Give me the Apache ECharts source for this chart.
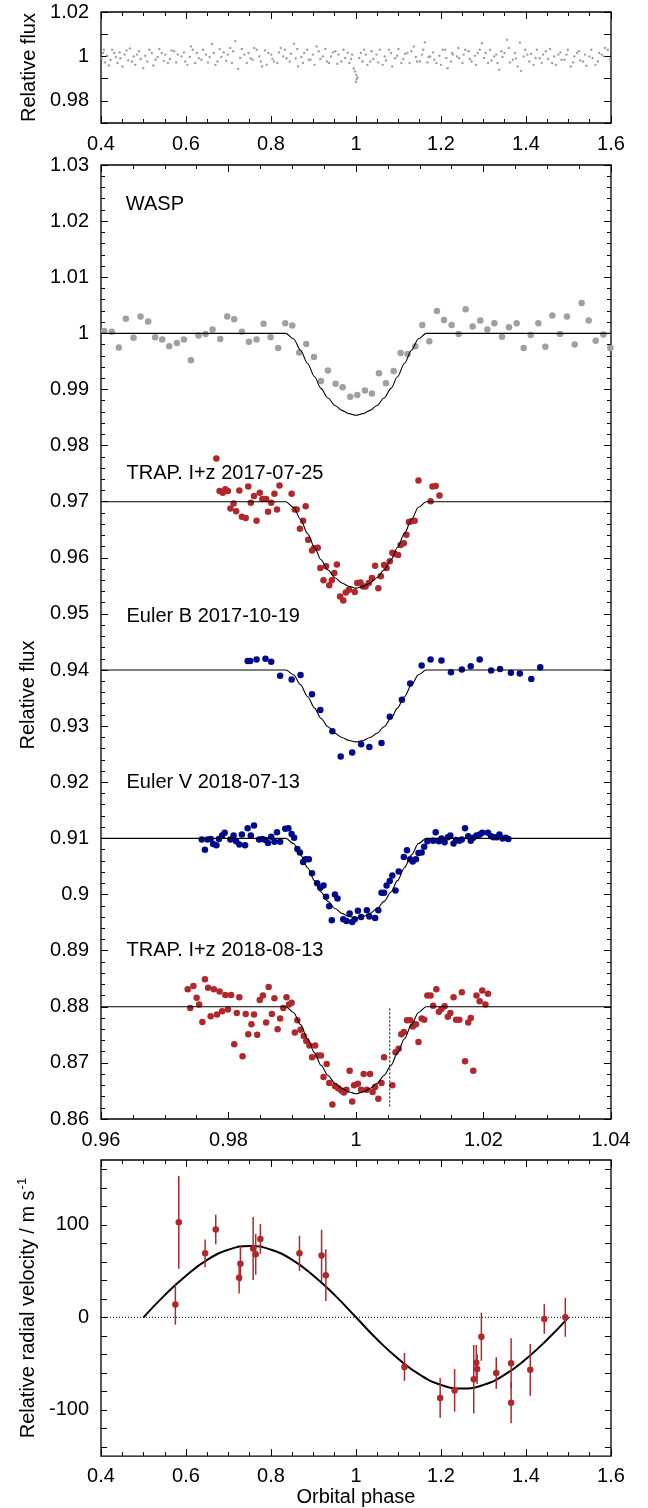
<!DOCTYPE html>
<html>
<head>
<meta charset="utf-8">
<title>Transit light curves and radial velocities</title>
<script src="https://cdn.jsdelivr.net/npm/echarts@6/dist/echarts.min.js"></script>
<style>
  html, body { margin: 0; padding: 0; background: #fff; }
  #chart { width: 648px; height: 1508px; }
</style>
</head>
<body>
<div id="chart"></div>
<script>
// ---- full-orbit WASP photometry (phase, relative flux) ----
const waspFull = [
  [0.4019,0.9993],[0.4049,1.0015],[0.4068,1.0030],[0.4097,0.9973],[0.4146,1.0003],[0.4185,0.9959],[0.4224,0.9985],[0.4262,1.0030],
  [0.4311,1.0015],[0.4350,0.9997],[0.4389,0.9970],[0.4437,1.0018],[0.4457,0.9992],[0.4505,0.9955],[0.4554,1.0008],[0.4603,1.0027],
  [0.4642,0.9982],[0.4680,1.0036],[0.4729,0.9977],[0.4768,1.0000],[0.4807,0.9962],[0.4846,1.0008],[0.4894,1.0023],[0.4933,0.9988],
  [0.4991,0.9947],[0.5040,1.0003],[0.5089,0.9977],[0.5137,1.0030],[0.5196,1.0015],[0.5234,0.9959],[0.5283,0.9985],[0.5332,0.9997],
  [0.5371,1.0033],[0.5429,1.0015],[0.5477,0.9980],[0.5516,1.0008],[0.5575,0.9970],[0.5623,0.9988],[0.5662,1.0027],[0.5720,1.0023],
  [0.5769,0.9973],[0.5808,1.0008],[0.5895,1.0000],[0.5954,1.0018],[0.5983,0.9977],[0.6031,0.9962],[0.6090,0.9997],[0.6119,1.0045],
  [0.6158,1.0030],[0.6216,0.9970],[0.6255,1.0015],[0.6304,0.9992],[0.6362,0.9985],[0.6401,1.0030],[0.6469,1.0008],[0.6517,0.9973],
  [0.6556,0.9997],[0.6615,1.0056],[0.6654,1.0015],[0.6692,0.9962],[0.6741,0.9977],[0.6790,1.0033],[0.6829,0.9997],[0.6887,1.0018],
  [0.6945,0.9980],[0.6984,1.0008],[0.7042,1.0038],[0.7081,0.9970],[0.7110,1.0023],[0.7159,1.0069],[0.7227,0.9944],[0.7276,0.9993],
  [0.7315,1.0033],[0.7373,1.0008],[0.7431,0.9970],[0.7470,1.0015],[0.7519,0.9992],[0.7567,0.9985],[0.7606,1.0038],[0.7664,1.0030],
  [0.7723,1.0000],[0.7762,0.9977],[0.7791,0.9955],[0.7859,1.0027],[0.7898,0.9962],[0.7937,1.0015],[0.8005,1.0008],[0.8034,0.9988],
  [0.8073,0.9977],[0.8150,0.9970],[0.8189,1.0018],[0.8228,1.0038],[0.8287,1.0000],[0.8326,1.0030],[0.8364,0.9992],[0.8442,0.9977],
  [0.8471,1.0012],[0.8539,1.0057],[0.8578,0.9991],[0.8617,1.0033],[0.8636,0.9955],[0.8714,0.9997],[0.8753,0.9970],[0.8782,1.0015],
  [0.8850,1.0030],[0.8889,0.9985],[0.8928,0.9985],[0.8986,1.0008],[0.9025,0.9962],[0.9074,1.0045],[0.9122,1.0023],[0.9161,0.9988],
  [0.9220,1.0000],[0.9278,1.0033],[0.9317,0.9977],[0.9365,0.9970],[0.9414,1.0000],[0.9453,1.0018],[0.9511,1.0023],[0.9560,0.9967],
  [0.9589,1.0008],[0.9657,0.9977],[0.9706,1.0030],[0.9745,0.9993],[0.9803,1.0015],[0.9842,0.9970],[0.9881,0.9988],[0.9910,1.0008],
  [0.9949,0.9946],[0.9978,0.9932],[0.9997,0.9885],[1.0007,0.9917],[1.0017,0.9897],[1.0036,0.9906],[1.0075,0.9993],[1.0114,1.0015],
  [1.0153,0.9977],[1.0192,1.0030],[1.0231,1.0008],[1.0269,0.9962],[1.0337,0.9977],[1.0367,1.0023],[1.0405,0.9988],[1.0483,1.0008],
  [1.0522,0.9973],[1.0561,1.0030],[1.0629,0.9962],[1.0678,1.0000],[1.0707,0.9982],[1.0775,1.0030],[1.0823,1.0015],[1.0853,0.9955],
  [1.0921,0.9992],[1.0969,1.0003],[1.0998,1.0033],[1.1066,0.9970],[1.1115,0.9988],[1.1154,1.0012],[1.1212,1.0015],[1.1261,0.9970],
  [1.1300,1.0023],[1.1358,1.0045],[1.1407,0.9997],[1.1436,0.9977],[1.1504,0.9977],[1.1552,1.0008],[1.1582,1.0030],[1.1620,1.0063],
  [1.1679,0.9973],[1.1708,0.9997],[1.1747,1.0000],[1.1815,1.0018],[1.1844,0.9985],[1.1893,0.9970],[1.1961,1.0003],[1.2000,0.9962],
  [1.2038,1.0030],[1.2097,1.0030],[1.2126,0.9993],[1.2155,0.9947],[1.2233,0.9977],[1.2262,1.0015],[1.2281,1.0008],[1.2379,1.0000],
  [1.2408,1.0038],[1.2427,0.9992],[1.2505,0.9970],[1.2534,1.0008],[1.2573,1.0030],[1.2651,1.0023],[1.2680,0.9988],[1.2719,0.9977],
  [1.2797,1.0003],[1.2826,0.9962],[1.2865,1.0015],[1.2913,1.0030],[1.2962,1.0059],[1.3010,0.9993],[1.3049,1.0015],[1.3108,0.9970],
  [1.3156,1.0030],[1.3185,0.9982],[1.3253,1.0000],[1.3302,1.0008],[1.3331,0.9970],[1.3370,0.9940],[1.3419,1.0023],[1.3448,0.9997],
  [1.3496,1.0015],[1.3555,1.0075],[1.3594,1.0038],[1.3623,0.9973],[1.3691,0.9985],[1.3739,1.0015],[1.3768,0.9991],[1.3807,0.9955],
  [1.3856,1.0062],[1.3885,0.9935],[1.3944,1.0000],[1.3982,1.0030],[1.4031,1.0008],[1.4080,0.9977],[1.4119,1.0012],[1.4177,0.9962],
  [1.4225,0.9993],[1.4255,1.0030],[1.4323,0.9992],[1.4371,0.9970],[1.4400,1.0008],[1.4468,1.0023],[1.4517,0.9988],[1.4566,1.0033],
  [1.4614,0.9970],[1.4663,1.0000],[1.4702,0.9962],[1.4760,1.0008],[1.4809,1.0018],[1.4838,0.9985],[1.4906,0.9985],[1.4954,1.0008],
  [1.4984,1.0030],[1.5052,0.9955],[1.5110,0.9973],[1.5139,1.0000],[1.5197,1.0015],[1.5246,1.0023],[1.5275,0.9982],[1.5343,0.9977],
  [1.5392,1.0008],[1.5421,0.9958],[1.5489,1.0000],[1.5538,1.0030],[1.5567,0.9993],[1.5635,0.9962],[1.5693,0.9977],[1.5722,1.0015],
  [1.5781,1.0008],[1.5829,1.0000],[1.5858,1.0038],[1.5926,1.0030],[1.5975,0.9985]
];

// ---- transit close-ups (phase, relative flux incl. offsets) ----
const waspBinned = [
  [0.9605,1.0004],[0.9617,1.0003],[0.9628,0.9975],[0.9639,1.0026],[0.9651,0.9992],[0.9662,1.0030],[0.9674,1.0021],[0.9685,0.9993],
  [0.9696,0.9989],[0.9707,0.9977],[0.9719,0.9983],[0.9730,0.9989],[0.9741,0.9952],[0.9753,0.9996],[0.9764,0.9999],[0.9775,1.0007],
  [0.9787,0.9990],[0.9798,1.0030],[0.9809,1.0025],[0.9821,1.0003],[0.9832,0.9985],[0.9844,0.9989],[0.9855,1.0017],[0.9866,0.9993],
  [0.9878,0.9974],[0.9889,1.0018],[0.9900,1.0014],[0.9911,0.9966],[0.9922,0.9981],[0.9934,0.9958],[0.9945,0.9915],[0.9956,0.9934],
  [0.9968,0.9910],[0.9979,0.9904],[0.9991,0.9887],[1.0002,0.9890],[1.0014,0.9898],[1.0025,0.9893],[1.0036,0.9929],[1.0047,0.9911],
  [1.0059,0.9933],[1.0070,0.9965],[1.0081,0.9963],[1.0093,0.9977],[1.0104,1.0015],[1.0115,0.9986],[1.0127,1.0040],[1.0138,1.0024],
  [1.0150,1.0015],[1.0161,0.9999],[1.0172,1.0043],[1.0183,1.0012],[1.0195,1.0023],[1.0206,1.0007],[1.0217,1.0018],[1.0229,0.9994],
  [1.0240,1.0011],[1.0252,1.0018],[1.0263,0.9974],[1.0274,0.9997],[1.0286,1.0018],[1.0297,0.9976],[1.0308,1.0032],[1.0320,0.9999],
  [1.0331,1.0030],[1.0343,0.9980],[1.0354,1.0054],[1.0365,1.0023],[1.0376,0.9987],[1.0388,0.9998],[1.0399,0.9974]
];
const trap2017 = [
  [0.9781,0.9777],[0.9786,0.9719],[0.9791,0.9716],[0.9795,0.9722],[0.9799,0.9719],[0.9803,0.9688],[0.9808,0.9697],[0.9812,0.9683],
  [0.9817,0.9720],[0.9821,0.9673],[0.9827,0.9671],[0.9831,0.9727],[0.9835,0.9698],[0.9840,0.9710],[0.9844,0.9666],[0.9849,0.9716],
  [0.9853,0.9705],[0.9859,0.9705],[0.9862,0.9682],[0.9867,0.9698],[0.9872,0.9714],[0.9876,0.9686],[0.9880,0.9729],[0.9899,0.9714],
  [0.9904,0.9686],[0.9907,0.9686],[0.9912,0.9652],[0.9917,0.9666],[0.9921,0.9692],[0.9925,0.9632],[0.9931,0.9613],[0.9934,0.9617],
  [0.9940,0.9618],[0.9944,0.9582],[0.9949,0.9560],[0.9953,0.9585],[0.9958,0.9551],[0.9962,0.9560],[0.9966,0.9573],[0.9970,0.9588],
  [0.9975,0.9531],[0.9980,0.9524],[0.9984,0.9538],[0.9989,0.9543],[0.9998,0.9539],[1.0002,0.9555],[1.0007,0.9556],[1.0011,0.9549],
  [1.0015,0.9549],[1.0020,0.9555],[1.0025,0.9564],[1.0030,0.9586],[1.0035,0.9546],[1.0039,0.9567],[1.0044,0.9587],[1.0048,0.9582],
  [1.0053,0.9594],[1.0057,0.9609],[1.0061,0.9607],[1.0066,0.9605],[1.0070,0.9623],[1.0075,0.9626],[1.0079,0.9641],[1.0083,0.9664],
  [1.0087,0.9665],[1.0092,0.9666],[1.0098,0.9738],[1.0117,0.9701],[1.0120,0.9727],[1.0125,0.9728],[1.0131,0.9711]
];
const eulerB2017 = [
  [0.9830,0.9416],[0.9834,0.9416],[0.9844,0.9419],[0.9858,0.9420],[0.9867,0.9415],[0.9881,0.9390],[0.9899,0.9383],[0.9913,0.9391],
  [0.9931,0.9357],[0.9944,0.9329],[0.9963,0.9291],[0.9976,0.9246],[0.9994,0.9253],[1.0008,0.9268],[1.0021,0.9263],[1.0040,0.9270],
  [1.0053,0.9317],[1.0072,0.9347],[1.0085,0.9376],[1.0103,0.9408],[1.0117,0.9419],[1.0134,0.9417],[1.0149,0.9396],[1.0166,0.9401],
  [1.0180,0.9407],[1.0194,0.9419],[1.0212,0.9399],[1.0226,0.9402],[1.0243,0.9395],[1.0257,0.9394],[1.0275,0.9384],[1.0289,0.9405]
];
const eulerV2018 = [
  [0.9758,0.9098],[0.9763,0.9080],[0.9767,0.9098],[0.9772,0.9099],[0.9776,0.9090],[0.9781,0.9088],[0.9785,0.9099],[0.9790,0.9105],
  [0.9794,0.9110],[0.9803,0.9098],[0.9808,0.9105],[0.9812,0.9095],[0.9817,0.9089],[0.9821,0.9107],[0.9826,0.9088],[0.9830,0.9118],
  [0.9835,0.9105],[0.9840,0.9123],[0.9848,0.9098],[0.9853,0.9099],[0.9858,0.9097],[0.9862,0.9092],[0.9867,0.9103],[0.9872,0.9094],
  [0.9876,0.9111],[0.9881,0.9094],[0.9889,0.9117],[0.9894,0.9118],[0.9899,0.9108],[0.9903,0.9101],[0.9908,0.9081],[0.9912,0.9075],
  [0.9917,0.9058],[0.9921,0.9063],[0.9926,0.9063],[0.9931,0.9038],[0.9939,0.9020],[0.9944,0.9012],[0.9949,0.9016],[0.9953,0.8996],
  [0.9958,0.8979],[0.9962,0.8954],[0.9967,0.9000],[0.9971,0.8993],[0.9980,0.8956],[0.9985,0.8953],[0.9990,0.8966],[0.9994,0.8951],
  [0.9998,0.8956],[1.0003,0.8971],[1.0008,0.8960],[1.0017,0.8972],[1.0021,0.8961],[1.0030,0.8958],[1.0035,0.8972],[1.0040,0.9003],
  [1.0044,0.9003],[1.0048,0.9016],[1.0053,0.9024],[1.0057,0.9034],[1.0062,0.9007],[1.0067,0.9041],[1.0075,0.9067],[1.0080,0.9079],
  [1.0085,0.9063],[1.0089,0.9059],[1.0094,0.9063],[1.0098,0.9074],[1.0103,0.9075],[1.0107,0.9085],[1.0112,0.9095],[1.0121,0.9096],
  [1.0125,0.9111],[1.0130,0.9095],[1.0134,0.9100],[1.0139,0.9093],[1.0144,0.9102],[1.0148,0.9105],[1.0153,0.9091],[1.0157,0.9097],
  [1.0162,0.9096],[1.0166,0.9098],[1.0171,0.9118],[1.0176,0.9104],[1.0180,0.9096],[1.0184,0.9101],[1.0189,0.9105],[1.0194,0.9107],
  [1.0198,0.9110],[1.0207,0.9110],[1.0212,0.9104],[1.0216,0.9102],[1.0221,0.9102],[1.0225,0.9107],[1.0230,0.9100],[1.0235,0.9101],
  [1.0239,0.9099]
];
const trap2018 = [
  [0.9736,0.8831],[0.9740,0.8798],[0.9745,0.8837],[0.9750,0.8816],[0.9754,0.8804],[0.9759,0.8773],[0.9763,0.8849],[0.9768,0.8834],
  [0.9772,0.8783],[0.9777,0.8831],[0.9782,0.8786],[0.9786,0.8827],[0.9790,0.8792],[0.9795,0.8821],[0.9799,0.8795],[0.9804,0.8821],
  [0.9809,0.8733],[0.9813,0.8789],[0.9817,0.8817],[0.9822,0.8712],[0.9827,0.8787],[0.9831,0.8751],[0.9836,0.8769],[0.9840,0.8786],
  [0.9845,0.8750],[0.9849,0.8812],[0.9854,0.8820],[0.9859,0.8772],[0.9863,0.8835],[0.9868,0.8787],[0.9872,0.8815],[0.9877,0.8760],
  [0.9881,0.8779],[0.9886,0.8798],[0.9891,0.8817],[0.9895,0.8804],[0.9899,0.8807],[0.9904,0.8754],[0.9908,0.8776],[0.9913,0.8759],
  [0.9918,0.8748],[0.9922,0.8739],[0.9927,0.8731],[0.9931,0.8710],[0.9936,0.8731],[0.9940,0.8713],[0.9945,0.8713],[0.9949,0.8675],
  [0.9954,0.8698],[0.9958,0.8664],[0.9963,0.8626],[0.9967,0.8659],[0.9972,0.8655],[0.9977,0.8651],[0.9981,0.8647],[0.9985,0.8652],
  [0.9990,0.8686],[0.9994,0.8631],[0.9997,0.8660],[1.0003,0.8663],[1.0008,0.8652],[1.0012,0.8680],[1.0017,0.8652],[1.0022,0.8680],
  [1.0026,0.8648],[1.0030,0.8657],[1.0035,0.8636],[1.0040,0.8664],[1.0044,0.8710],[1.0057,0.8660],[1.0062,0.8719],[1.0067,0.8725],
  [1.0071,0.8751],[1.0075,0.8755],[1.0080,0.8776],[1.0085,0.8776],[1.0089,0.8765],[1.0094,0.8769],[1.0098,0.8737],[1.0103,0.8779],
  [1.0107,0.8777],[1.0112,0.8820],[1.0117,0.8820],[1.0121,0.8802],[1.0126,0.8831],[1.0130,0.8791],[1.0134,0.8796],[1.0139,0.8801],
  [1.0144,0.8782],[1.0148,0.8789],[1.0153,0.8817],[1.0157,0.8777],[1.0162,0.8777],[1.0166,0.8826],[1.0171,0.8703],[1.0176,0.8772],
  [1.0180,0.8780],[1.0184,0.8686],[1.0189,0.8820],[1.0194,0.8810],[1.0198,0.8829],[1.0203,0.8804],[1.0207,0.8823]
];

// ---- transit model curves ----
const modelPhase = [0.96, 0.989, 0.9902, 0.9913, 0.9924, 0.9935, 0.9945, 0.9956, 0.9967, 0.9978, 0.9989, 1.0,
  1.0011, 1.0022, 1.0033, 1.0044, 1.0055, 1.0065, 1.0076, 1.0087, 1.0098, 1.011, 1.04];
const modelWasp = [1, 1, 0.99905, 0.99699, 0.99463, 0.99226, 0.99019, 0.98847, 0.98715, 0.98628, 0.98569, 0.9854,
  0.98569, 0.98628, 0.98715, 0.98847, 0.99019, 0.99226, 0.99463, 0.99699, 0.99905, 1, 1];
const modelTrap2017 = [0.97, 0.97, 0.969, 0.96683, 0.96433, 0.96184, 0.95965, 0.95783, 0.95645, 0.95552, 0.95491, 0.9546,
  0.95491, 0.95552, 0.95645, 0.95783, 0.95965, 0.96184, 0.96433, 0.96683, 0.969, 0.97, 0.97];
const modelEulerB = [0.94, 0.94, 0.93917, 0.93736, 0.93529, 0.93322, 0.9314, 0.92989, 0.92874, 0.92797, 0.92746, 0.9272,
  0.92746, 0.92797, 0.92874, 0.92989, 0.9314, 0.93322, 0.93529, 0.93736, 0.93917, 0.94, 0.94];
const modelEulerV = [0.91, 0.91, 0.90908, 0.90707, 0.90477, 0.90247, 0.90046, 0.89878, 0.8975, 0.89665, 0.89608, 0.8958,
  0.89608, 0.89665, 0.8975, 0.89878, 0.90046, 0.90247, 0.90477, 0.90707, 0.90908, 0.91, 0.91];
const modelTrap2018 = [0.88, 0.88, 0.87899, 0.87681, 0.8743, 0.87179, 0.86958, 0.86776, 0.86636, 0.86543, 0.86481, 0.8645,
  0.86481, 0.86543, 0.86636, 0.86776, 0.86958, 0.87179, 0.8743, 0.87681, 0.87899, 0.88, 0.88];
const egressMarker = [[1.0053, 0.8797], [1.0053, 0.8619]];

// labels of the datasets: [phase, flux, text]
const datasetLabels = [
  [0.9639, 1.0230, 'WASP'],
  [0.9640, 0.9750, 'TRAP. I+z 2017-07-25'],
  [0.9640, 0.9496, 'Euler B 2017-10-19'],
  [0.9640, 0.9200, 'Euler V 2018-07-13'],
  [0.9640, 0.8900, 'TRAP. I+z 2018-08-13']
];

// ---- radial velocities: [phase, rv (m/s), error] ----
const rvPoints = [
  [0.575, 13.8, 21.7], [0.583, 102.6, 50.0], [0.645, 69.1, 15.0], [0.670, 94.9, 16.0], [0.725, 42.7, 17.0],
  [0.728, 57.8, 19.0], [0.758, 74.4, 34.0], [0.764, 68.1, 22.0], [0.775, 84.7, 16.0], [0.867, 69.1, 19.0],
  [0.919, 66.7, 28.0], [0.929, 45.5, 28.0], [1.114, -53.6, 15.0], [1.198, -87.1, 21.5], [1.232, -79.0, 23.0],
  [1.277, -67.0, 37.0], [1.283, -49.0, 19.0], [1.285, -56.0, 16.0], [1.295, -21.0, 26.0], [1.330, -60.3, 17.0],
  [1.365, -49.7, 27.0], [1.365, -92.4, 22.0], [1.410, -56.8, 28.0], [1.443, -1.8, 16.0], [1.4925, 0.0, 21.0]
];
const rvModel = [
  [0.50, 0], [0.55, 24], [0.60, 45], [0.65, 62], [0.70, 73], [0.75, 77], [0.80, 73], [0.85, 62], [0.90, 45],
  [0.95, 24], [1.00, 0], [1.05, -24], [1.10, -45], [1.15, -62], [1.20, -73], [1.25, -77], [1.30, -73],
  [1.35, -62], [1.40, -45], [1.45, -24], [1.50, 0]
];
const rvTicks = [-140, -120, -100, -80, -60, -40, -20, 0, 20, 40, 60, 80, 100, 120, 140, 160];
const rvLabels = [-100, 0, 100];

const FONT = '"Liberation Sans", Arial, sans-serif';
const GREY = '#a0a0a0';
const RED = '#b0282b';
const BLUE = '#000a8e';

const zip = (xs, ys) => xs.map((x, i) => [x, ys[i]]);

function xPair(grid, min, max, interval, minorSplit, labelMargin) {
  const base = {
    type: 'value', gridIndex: grid, min: min, max: max, interval: interval,
    axisLine: { show: false, onZero: false },
    axisTick: { show: true, inside: true, length: 7, lineStyle: { color: '#000' } },
    minorTick: { show: true, splitNumber: minorSplit, length: 4, lineStyle: { color: '#000' } },
    splitLine: { show: false }
  };
  return [
    Object.assign({}, base, {
      position: 'bottom',
      axisLabel: { fontFamily: FONT, fontSize: 20, color: '#000', margin: labelMargin }
    }),
    Object.assign({}, base, { position: 'top', axisLabel: { show: false } })
  ];
}

function yPair(grid, extra, labelExtra, name) {
  const base = Object.assign({
    type: 'value', gridIndex: grid,
    axisLine: { show: false, onZero: false },
    axisTick: { show: true, inside: true, length: 7, lineStyle: { color: '#000' } },
    splitLine: { show: false }
  }, extra);
  return [
    Object.assign({}, base, {
      position: 'left',
      name: name,
      nameLocation: 'middle',
      nameRotate: 90,
      nameGap: 60,
      nameTextStyle: {
        fontFamily: FONT, fontSize: 20, color: '#000',
        rich: { sup: { fontFamily: FONT, fontSize: 13, color: '#000', verticalAlign: 'top', padding: [0, 0, 12, 1] } }
      },
      axisLabel: Object.assign({ fontFamily: FONT, fontSize: 20, color: '#000', margin: 12 }, labelExtra)
    }),
    Object.assign({}, base, { position: 'right', axisLabel: { show: false } })
  ];
}

const chart = echarts.init(document.getElementById('chart'), null, { renderer: 'canvas' });

const gridStyle = { show: true, borderColor: '#000', borderWidth: 1.3, backgroundColor: '#fff' };

const topY = yPair(0, {
  min: 0.97, max: 1.02, interval: 0.01
}, {
  formatter: v => (Math.round(v * 100) % 2 === 0 ? String(+v.toFixed(2)) : '')
}, 'Relative flux');

// the middle panel's axis title is placed as a graphic below
const midY = yPair(1, {
  min: 0.86, max: 1.03, interval: 0.01,
  minorTick: { show: true, splitNumber: 5, length: 4, lineStyle: { color: '#000' } }
}, {}, '');

const rvY = yPair(2, {
  min: -150, max: 170,
  axisTick: { show: true, inside: true, length: 6, lineStyle: { color: '#000' }, customValues: rvTicks }
}, { customValues: rvLabels }, 'Relative radial velocity / m s{sup|-1}');

const xs = [].concat(
  xPair(0, 0.4, 1.6, 0.2, 4, 11),
  xPair(1, 0.96, 1.04, 0.02, 4, 11),
  xPair(2, 0.4, 1.6, 0.2, 4, 10)
);
xs[4].name = 'Orbital phase';
xs[4].nameLocation = 'middle';
xs[4].nameGap = 28;
xs[4].nameTextStyle = { fontFamily: FONT, fontSize: 20, color: '#000' };

const scatter = (data, color, size, xi, yi) => ({
  type: 'scatter', data: data, xAxisIndex: xi, yAxisIndex: yi,
  symbol: 'circle', symbolSize: size, itemStyle: { color: color, opacity: 1 }, silent: true, z: 2
});
const modelLine = (ys, xi, yi, width) => ({
  type: 'line', data: zip(modelPhase, ys), xAxisIndex: xi, yAxisIndex: yi,
  showSymbol: false, smooth: 0.3, smoothMonotone: 'x',
  lineStyle: { color: '#000', width: width }, silent: true, z: 3
});

chart.setOption({
  animation: false,
  textStyle: { fontFamily: FONT },
  grid: [
    Object.assign({ left: 101, right: 37, top: 12, height: 111 }, gridStyle),
    Object.assign({ left: 101, right: 37, top: 165, height: 954 }, gridStyle),
    Object.assign({ left: 101, right: 37, top: 1160, height: 302 }, gridStyle)
  ],
  graphic: [{
    type: 'text', x: 28, y: 695, rotation: Math.PI / 2,
    style: {
      text: 'Relative flux', fill: '#000', font: '20px ' + FONT,
      align: 'center', verticalAlign: 'middle'
    }
  }],
  xAxis: xs,
  yAxis: [].concat(topY, midY, rvY),
  series: [
    // top panel: WASP over the whole orbit
    scatter(waspFull, GREY, 2.4, 0, 0),

    // middle panel: transits
    scatter(waspBinned, GREY, 6.5, 2, 2),
    scatter(trap2017, RED, 6.5, 2, 2),
    scatter(eulerB2017, BLUE, 6.5, 2, 2),
    scatter(eulerV2018, BLUE, 6.5, 2, 2),
    scatter(trap2018, RED, 6.5, 2, 2),
    modelLine(modelWasp, 2, 2, 1.1),
    modelLine(modelTrap2017, 2, 2, 1.1),
    modelLine(modelEulerB, 2, 2, 1.1),
    modelLine(modelEulerV, 2, 2, 1.1),
    modelLine(modelTrap2018, 2, 2, 1.1),
    {
      type: 'line', data: egressMarker, xAxisIndex: 2, yAxisIndex: 2, showSymbol: false,
      lineStyle: { color: '#000', width: 1, type: [2, 2] }, silent: true, z: 3
    },
    {
      type: 'scatter', xAxisIndex: 2, yAxisIndex: 2, symbolSize: 0, silent: true,
      itemStyle: { opacity: 1 },
      data: datasetLabels.map(d => ({ value: [d[0], d[1]], name: d[2] })),
      label: {
        show: true, position: 'right', distance: 0, formatter: p => p.name,
        fontFamily: FONT, fontSize: 20, color: '#000'
      }
    },

    // bottom panel: radial velocities
    {
      type: 'line', data: [[0.4, 0], [1.6, 0]], xAxisIndex: 4, yAxisIndex: 4, showSymbol: false,
      lineStyle: { color: '#000', width: 1, type: [1, 2] }, silent: true, z: 1
    },
    {
      type: 'line', data: rvModel, xAxisIndex: 4, yAxisIndex: 4, showSymbol: false, smooth: true,
      lineStyle: { color: '#000', width: 2 }, silent: true, z: 2
    },
    {
      type: 'custom', xAxisIndex: 4, yAxisIndex: 4, silent: true, z: 3,
      data: rvPoints.map(p => [p[0], p[1] - p[2], p[1] + p[2]]),
      renderItem: (params, api) => {
        const a = api.coord([api.value(0), api.value(1)]);
        const b = api.coord([api.value(0), api.value(2)]);
        return {
          type: 'line',
          shape: { x1: a[0], y1: a[1], x2: b[0], y2: b[1] },
          style: { stroke: RED, lineWidth: 1.5 }
        };
      }
    },
    scatter(rvPoints.map(p => [p[0], p[1]]), RED, 6.5, 4, 4)
  ]
});
</script>
</body>
</html>
